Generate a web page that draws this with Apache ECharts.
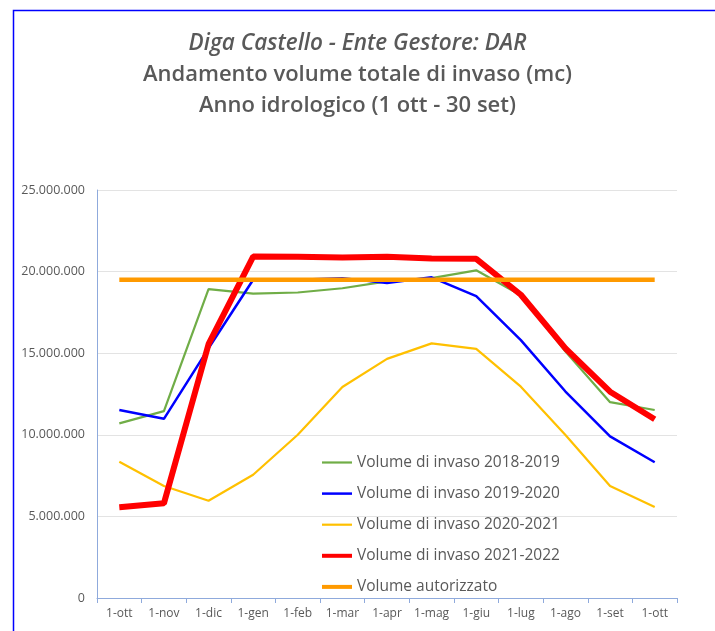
<!DOCTYPE html>
<html>
<head>
<meta charset="utf-8">
<script src="https://cdn.jsdelivr.net/npm/echarts@6/dist/echarts.min.js"></script>
<style>
  html, body { margin: 0; padding: 0; background: #fff; }
  #chart { width: 715px; height: 631px; }
</style>
</head>
<body>
<div id="chart"></div>
<script>
// mesi dell'anno idrologico
let mesi = ['1-ott', '1-nov', '1-dic', '1-gen', '1-feb', '1-mar', '1-apr', '1-mag', '1-giu', '1-lug', '1-ago', '1-set', '1-ott'];

let vol2018 = [10700000, 11450000, 18930000, 18650000, 18720000, 18980000, 19400000, 19600000, 20080000, 18550000, 15100000, 12000000, 11520000];
let vol2019 = [11520000, 10980000, 15300000, 19500000, 19500000, 19600000, 19300000, 19650000, 18500000, 15800000, 12650000, 9900000, 8320000];
let vol2020 = [8350000, 6860000, 5960000, 7550000, 10000000, 12930000, 14650000, 15600000, 15270000, 12950000, 9990000, 6860000, 5570000];
let vol2021 = [5560000, 5800000, 15550000, 20920000, 20910000, 20870000, 20910000, 20810000, 20780000, 18580000, 15300000, 12640000, 10950000];
let volAutorizzato = [19500000, 19500000, 19500000, 19500000, 19500000, 19500000, 19500000, 19500000, 19500000, 19500000, 19500000, 19500000, 19500000];

let yTicks = [0, 5000000, 10000000, 15000000, 20000000, 25000000];

let nomi = ['Volume di invaso 2018-2019', 'Volume di invaso 2019-2020', 'Volume di invaso 2020-2021', 'Volume di invaso 2021-2022', 'Volume autorizzato'];
let colori = ['#70ad47', '#0000ff', '#ffc000', '#ff0000', '#ff9a00'];
let spessori = [2.2, 2.5, 2.2, 6, 4.5];
let valori = [vol2018, vol2019, vol2020, vol2021, volAutorizzato];

let grigio = '#595959';

function formatNum(v) {
    return String(v).replace(/\B(?=(\d{3})+(?!\d))/g, '.');
}

let chart = echarts.init(document.getElementById('chart'));

let option = {
    animation: false,
    backgroundColor: '#fff',
    title: {
        text: '{it|Diga Castello - Ente Gestore: DAR}\n{n|Andamento volume totale di invaso (mc)}\n{n|Anno idrologico (1 ott - 30 set)}',
        left: 'center',
        top: 23,
        textStyle: {
            rich: {
                it: { fontFamily: 'Open Sans', fontSize: 22.5, fontStyle: 'italic', color: grigio, lineHeight: 31, fontWeight: 600 },
                n: { fontFamily: 'Open Sans', fontSize: 22, color: grigio, lineHeight: 31, fontWeight: 600 }
            }
        }
    },
    graphic: [{
        type: 'rect',
        shape: { x: 13.5, y: 10.5, width: 900, height: 900 },
        style: { fill: 'none', stroke: '#0000ff', lineWidth: 1.5 },
        silent: true
    }],
    legend: {
        orient: 'vertical',
        left: 315,
        top: 447.5,
        itemWidth: 30,
        itemHeight: 20,
        itemGap: 11.1,
        itemStyle: { opacity: 0 },
        textStyle: { fontFamily: 'Open Sans', fontSize: 15.5, lineHeight: 20, color: grigio },
        data: nomi.map(function(n, i) {
            return { name: n, lineStyle: { width: Math.min(spessori[i], 4) } };
        })
    },
    grid: { left: 97, right: 38, top: 190, bottom: 33 },
    xAxis: {
        type: 'category',
        data: mesi,
        boundaryGap: true,
        axisLine: { lineStyle: { color: '#8faadc', width: 1 } },
        axisTick: { show: true, interval: 0, length: 5, lineStyle: { color: '#8faadc' } },
        axisLabel: { interval: 0, fontFamily: 'Open Sans', fontSize: 12, color: grigio, margin: 10 }
    },
    yAxis: {
        type: 'value',
        min: yTicks[0],
        max: yTicks[yTicks.length - 1],
        interval: 5000000,
        axisLine: { show: true, lineStyle: { color: '#8faadc', width: 1 } },
        axisTick: { show: false },
        splitLine: { lineStyle: { color: '#e3e3e3' } },
        axisLabel: { fontFamily: 'Open Sans', fontSize: 12.5, color: grigio, margin: 12, formatter: formatNum }
    },
    series: nomi.map(function(n, i) {
        return {
            name: n,
            type: 'line',
            data: valori[i],
            symbol: 'none',
            lineStyle: { color: colori[i], width: spessori[i] },
            itemStyle: { color: colori[i] },
            emphasis: { disabled: true }
        };
    })
};

chart.setOption(option);
</script>
</body>
</html>
